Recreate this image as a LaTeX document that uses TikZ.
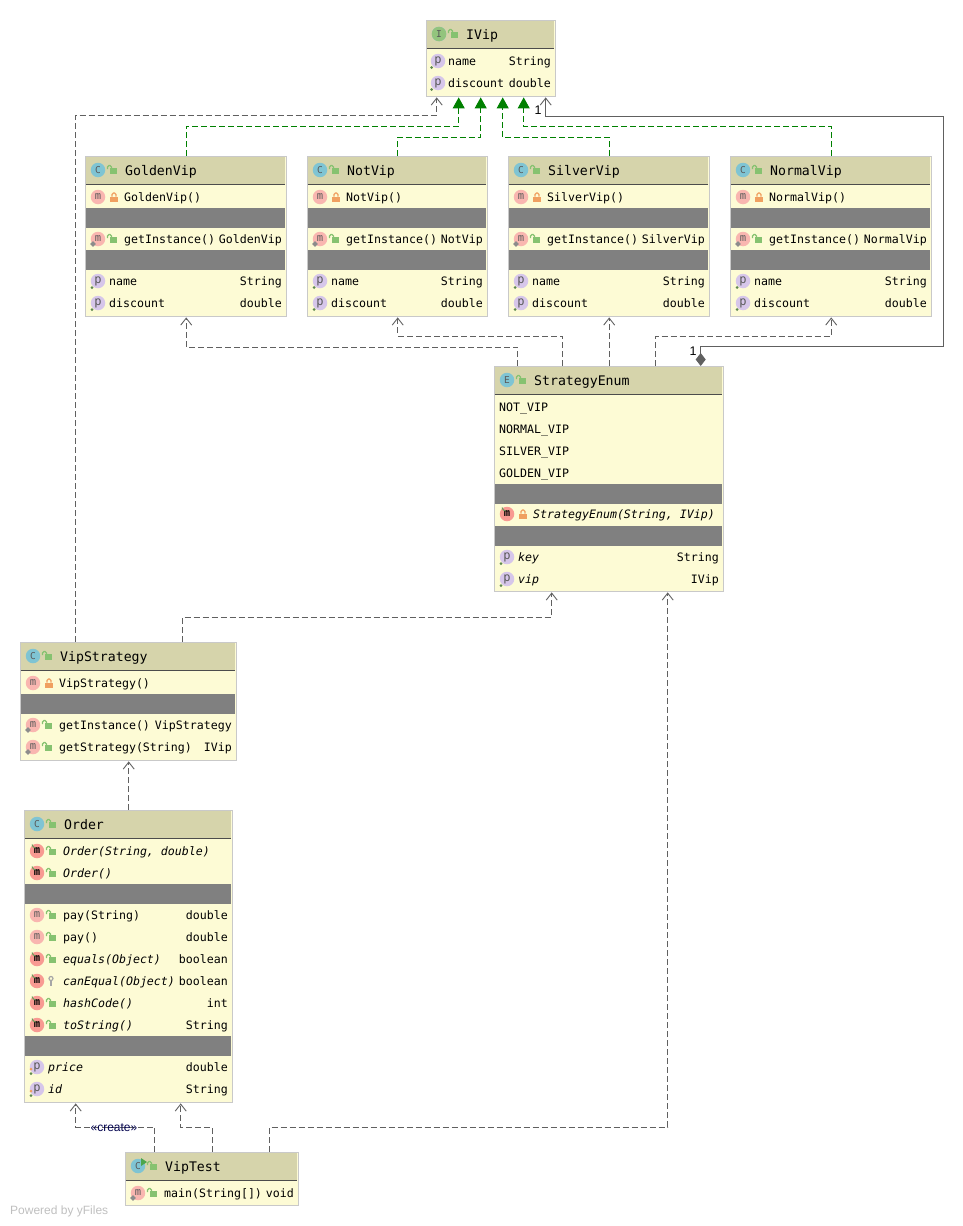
\documentclass[tikz,border=0pt]{standalone}
\usepackage{fontspec}
\setmainfont{Liberation Sans}
\setmonofont{DejaVu Sans Mono}
\usetikzlibrary{arrows.meta}

\definecolor{headfill}{HTML}{D6D4AB}
\definecolor{bodyfill}{HTML}{FDFBD5}
\definecolor{bordergray}{HTML}{C9C9C9}
\definecolor{gapgray}{HTML}{808080}
\definecolor{tealicon}{HTML}{7FC4D3}
\definecolor{greenicon}{HTML}{93C47D}
\definecolor{pinkicon}{HTML}{F9B6B0}
\definecolor{redicon}{HTML}{F89A92}
\definecolor{lilacicon}{HTML}{D6C6EA}
\definecolor{lockgreen}{HTML}{86C270}
\definecolor{lockorange}{HTML}{F0A060}
\definecolor{linkgray}{HTML}{606060}
\definecolor{implgreen}{HTML}{008000}

\tikzset{
  memberfont/.style={font=\ttfamily\fontsize{11.6}{14}\selectfont,text=black,inner sep=0pt},
  titlefont/.style={font=\ttfamily\fontsize{13.2}{16}\selectfont,text=black,inner sep=0pt},
  classbox/.style={draw=bordergray,line width=1.4pt,fill=bodyfill,rectangle,inner sep=0pt,anchor=north west},
  icon/.style={circle,minimum size=14.5pt,inner sep=0pt,text=black!65,font=\ttfamily\fontsize{10.5}{10}\selectfont},
  iconm/.style={icon,fill=pinkicon},
  iconM/.style={icon,fill=redicon,font=\ttfamily\bfseries\fontsize{10.5}{10}\selectfont,text=black},
  iconp/.style={icon,fill=lilacicon,font=\ttfamily\fontsize{12}{12}\selectfont},
  depline/.style={draw=linkgray,line width=0.9pt,dash pattern=on 6pt off 3pt,-{Straight Barb[length=7pt,width=11pt,line width=0.9pt]}},
  implline/.style={draw=implgreen,line width=0.9pt,dash pattern=on 6pt off 3pt,-{Triangle[length=11pt,width=12pt,fill=implgreen]}},
  ownline/.style={draw=linkgray,line width=0.9pt,{Diamond[length=13pt,width=10pt,fill=linkgray]}-{Straight Barb[length=7pt,width=11pt,line width=0.9pt]}},
  linklabel/.style={font=\fontsize{12.5}{14}\selectfont,text=black,inner sep=0pt},
  pics/lockopen/.style={code={
    \fill[lockgreen] (-3,-1) rectangle (4,5);
    \draw[lockgreen,line width=1.1pt,rounded corners=1.5pt] (-5.5,0) -- (-5.5,-3.5) -- (-1.5,-3.5) -- (-1.5,-1);}},
  pics/lockshut/.style={code={
    \fill[lockorange] (-2.7,0.7) rectangle (4.7,6);
    \draw[lockorange,line width=1.1pt,rounded corners=1.5pt] (-1,0.7) -- (-1,-3) -- (3,-3) -- (3,0.7);}},
  pics/lockkey/.style={code={
    \draw[black!35,line width=1.2pt] (-1,-1.5) circle (2);
    \draw[black!35,line width=1.4pt] (-1,0.5) -- (-1,6);}},
}

% box, left, top, width, height, letter, title
\newcommand{\vipbox}[7]{%
  \def\curl{#2}\pgfmathsetmacro{\curr}{#2+#4}\def\curn{#1}%
  \node[classbox,minimum width=#4pt,minimum height=#5pt] (#1) at (#2,#3) {};
  \fill[headfill] (#2+.7,#3+.7) rectangle (#2+#4-.7,#3+28);
  \draw[black!70,line width=0.9pt] (#2+.7,#3+28) -- (#2+#4-.7,#3+28);
  \node[icon,fill=tealicon,font=\ttfamily\fontsize{9.5}{10}\selectfont] (#1-kind) at (#2+13,#3+14) {#6};
  \pic at (#2+28,#3+13) {lockopen};
  \node[titlefont,anchor=base west] (#1-title) at (#2+40,#3+19) {#7};
}
% y, icon style, lock pic, text, type
\newcommand{\methodrow}[5]{%
  \node[#2] (\curn-icon#1) at (\curl+13,#1) {m};
  \pic at (\curl+28,#1-1) {#3};
  \node[memberfont,anchor=base west] (\curn-text#1) at (\curl+39,#1+4) {#4};
  \node[memberfont,anchor=base east] (\curn-type#1) at (\curr-4,#1+4) {#5};
}
% y, lock pic, text, type
\newcommand{\overrow}[4]{%
  \methodrow{#1}{iconM}{#2}{\itshape #3}{#4}
  \draw[lockgreen!80!black,line width=1.1pt] (\curl+8,#1-6.5) .. controls (\curl+9,#1-4) .. (\curl+11.5,#1-3);
}
% y, text, type
\newcommand{\fieldrow}[3]{%
  \node[iconp] (\curn-icon#1) at (\curl+13,#1) {p};
  \fill[lockgreen!70!black] (\curl+7,#1+6.5) circle (1.5);
  \node[memberfont,anchor=base west] (\curn-text#1) at (\curl+24,#1+4) {#2};
  \node[memberfont,anchor=base east] (\curn-type#1) at (\curr-4,#1+4) {#3};
}
\newcommand{\staticmark}[1]{\fill[black!45,rotate around={45:(\curl+8,#1+5)}] (\curl+6,#1+3) rectangle (\curl+10,#1+7);}
\newcommand{\gapband}[1]{\fill[gapgray] (\curl+.7,#1) rectangle (\curr-.7,#1+20);}

\begin{document}
\begin{tikzpicture}[x=1pt,y=-1pt]
\useasboundingbox (0,0) rectangle (962,1226);

\vipbox{IVip}{426}{20}{129}{76}{I}{IVip}
\node[icon,fill=greenicon,font=\ttfamily\fontsize{9.5}{10}\selectfont] (IVip-kind) at (439,34) {I};
\node[iconp] (IVip-icon61) at (438,61) {p};
\fill[lockgreen!70!black] (431.5,67.5) circle (1.5);
\node[memberfont,anchor=base west] (IVip-text61) at (448,65) {name};
\node[memberfont,anchor=base east] (IVip-type61) at (551,65) {String};
\node[iconp] (IVip-icon83) at (438,83) {p};
\fill[lockgreen!70!black] (431.5,89.5) circle (1.5);
\node[memberfont,anchor=base west] (IVip-text83) at (448,87) {discount};
\node[memberfont,anchor=base east] (IVip-type83) at (551,87) {double};

\vipbox{GoldenVip}{85}{156}{201}{160}{C}{GoldenVip}
\methodrow{197}{iconm}{lockshut}{GoldenVip()}{}
\gapband{208}
\methodrow{239}{iconm}{lockopen}{getInstance()}{GoldenVip}
\staticmark{239}
\gapband{250}
\fieldrow{281}{name}{String}
\fieldrow{303}{discount}{double}

\vipbox{NotVip}{307}{156}{180}{160}{C}{NotVip}
\methodrow{197}{iconm}{lockshut}{NotVip()}{}
\gapband{208}
\methodrow{239}{iconm}{lockopen}{getInstance()}{NotVip}
\staticmark{239}
\gapband{250}
\fieldrow{281}{name}{String}
\fieldrow{303}{discount}{double}

\vipbox{SilverVip}{508}{156}{201}{160}{C}{SilverVip}
\methodrow{197}{iconm}{lockshut}{SilverVip()}{}
\gapband{208}
\methodrow{239}{iconm}{lockopen}{getInstance()}{SilverVip}
\staticmark{239}
\gapband{250}
\fieldrow{281}{name}{String}
\fieldrow{303}{discount}{double}

\vipbox{NormalVip}{730}{156}{201}{160}{C}{NormalVip}
\methodrow{197}{iconm}{lockshut}{NormalVip()}{}
\gapband{208}
\methodrow{239}{iconm}{lockopen}{getInstance()}{NormalVip}
\staticmark{239}
\gapband{250}
\fieldrow{281}{name}{String}
\fieldrow{303}{discount}{double}

\vipbox{StrategyEnum}{494}{366}{229}{225}{E}{StrategyEnum}
\node[memberfont,anchor=base west] (enum-not) at (499,411) {NOT\_VIP};
\node[memberfont,anchor=base west] (enum-normal) at (499,433) {NORMAL\_VIP};
\node[memberfont,anchor=base west] (enum-silver) at (499,455) {SILVER\_VIP};
\node[memberfont,anchor=base west] (enum-golden) at (499,477) {GOLDEN\_VIP};
\gapband{484}
\overrow{514}{lockshut}{StrategyEnum(String, IVip)}{}
\gapband{526}
\fieldrow{557}{\itshape key}{String}
\fieldrow{579}{\itshape vip}{IVip}

\vipbox{VipStrategy}{20}{642}{216}{118}{C}{VipStrategy}
\methodrow{683}{iconm}{lockshut}{VipStrategy()}{}
\gapband{694}
\methodrow{725}{iconm}{lockopen}{getInstance()}{VipStrategy}
\staticmark{725}
\methodrow{747}{iconm}{lockopen}{getStrategy(String)}{IVip}
\staticmark{747}

\vipbox{Order}{24}{810}{208}{292}{C}{Order}
\overrow{851}{lockopen}{Order(String, double)}{}
\overrow{873}{lockopen}{Order()}{}
\gapband{884}
\methodrow{915}{iconm}{lockopen}{pay(String)}{double}
\methodrow{937}{iconm}{lockopen}{pay()}{double}
\overrow{959}{lockopen}{equals(Object)}{boolean}
\overrow{981}{lockkey}{canEqual(Object)}{boolean}
\overrow{1003}{lockopen}{hashCode()}{int}
\overrow{1025}{lockopen}{toString()}{String}
\gapband{1036}
\fieldrow{1067}{\itshape price}{double}
\fill[lockorange] (31,1069) circle (1.5);
\fieldrow{1089}{\itshape id}{String}
\fill[lockorange] (31,1091) circle (1.5);

\vipbox{VipTest}{125}{1152}{173}{53}{C}{VipTest}
\fill[implgreen!70!white] (141,1158) -- (147,1162) -- (141,1166) -- cycle;
\methodrow{1193}{iconm}{lockopen}{main(String[])}{void}
\staticmark{1193}

% realisations of IVip
\draw[implline] (GoldenVip.north) -- ++(0,-30) -| ([xshift=-32.5pt]IVip.south);
\draw[implline] (NotVip.north) -- ++(0,-19) -| ([xshift=-10.5pt]IVip.south);
\draw[implline] (SilverVip.north) -- ++(0,-19) -| ([xshift=11.5pt]IVip.south);
\draw[implline] (NormalVip.north) -- ++(0,-30) -| ([xshift=32.5pt]IVip.south);

% uses
\draw[depline] ([xshift=-91.5pt]StrategyEnum.north) -- ++(0,-19) -| (GoldenVip.south);
\draw[depline] ([xshift=-46.5pt]StrategyEnum.north) -- ++(0,-30) -| (NotVip.south);
\draw[depline] (StrategyEnum.north) -- (SilverVip.south);
\draw[depline] ([xshift=46.5pt]StrategyEnum.north) -- ++(0,-30) -| (NormalVip.south);
\draw[depline] ([xshift=-53pt]VipStrategy.north) -- ++(0,-527) -| ([xshift=-54.5pt]IVip.south);
\draw[depline] ([xshift=54pt]VipStrategy.north) -- ++(0,-25) -| ([xshift=-57.5pt]StrategyEnum.south);
\draw[depline] (Order.north) -- (VipStrategy.south);
\draw[depline] ([xshift=-57.5pt]VipTest.north) -- ++(0,-25) -| ([xshift=-53pt]Order.south);
\draw[depline] (VipTest.north) -- ++(0,-25) -| ([xshift=52pt]Order.south);
\draw[depline] ([xshift=57.5pt]VipTest.north) -- ++(0,-25) -| ([xshift=58.5pt]StrategyEnum.south);

% composition
\coordinate (loopcorner) at (943,116);
\draw[ownline] ([xshift=91.5pt]StrategyEnum.north) -- ++(0,-20) -| (loopcorner) -| ([xshift=54.5pt]IVip.south);

\node[linklabel] (ownOne) at (693,351) {1};
\node[linklabel] (ivipOne) at (538,110) {1};
\node[linklabel,text=blue!30!black,font=\fontsize{12}{14}\selectfont] (createLabel) at (114,1128) {«create»};
\node[font=\fontsize{12}{14}\selectfont,text=black!25,inner sep=0pt,anchor=base west] (poweredBy) at (10,1214) {Powered by yFiles};
\end{tikzpicture}
\end{document}
